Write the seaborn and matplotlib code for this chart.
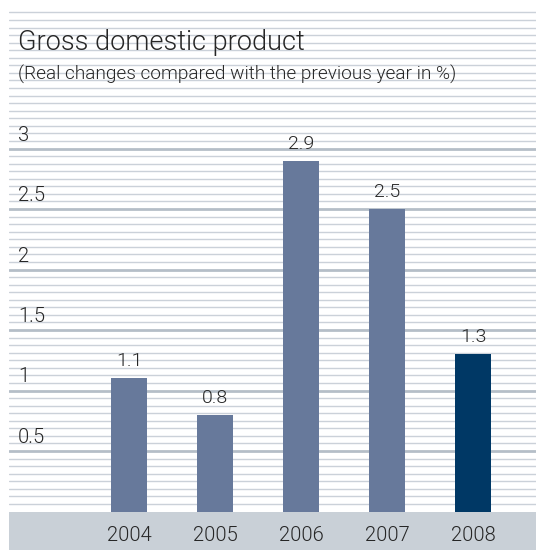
import matplotlib
matplotlib.use("Agg")
import matplotlib.pyplot as plt
import matplotlib.transforms as mtransforms
import numpy as np
import seaborn as sns

# Data
years = ["2004", "2005", "2006", "2007", "2008"]
gdp_change = [1.1, 0.8, 2.9, 2.5, 1.3]
tick_values = [0.5, 1, 1.5, 2, 2.5, 3]
tick_labels = ["0.5", "1", "1.5", "2", "2.5", "3"]
title = "Gross domestic product"
subtitle = "(Real changes compared with the previous year in %)"

bar_colors = ["#67799b", "#67799b", "#67799b", "#67799b", "#003865"]
text_color = "#262626"
stripe_color = "#cbd1d9"
major_stripe_color = "#b5bec8"
band_color = "#c9d0d7"

sns.set_theme(style="white")
plt.rcParams["font.family"] = ["Roboto", "DejaVu Sans"]
WEIGHT = 300

W, H, DPI = 536, 550, 100
fig = plt.figure(figsize=(W / DPI, H / DPI), dpi=DPI)
fig.patch.set_facecolor("white")

left_px, right_px = 9, 536
ax = fig.add_axes([left_px / W, 0, (right_px - left_px) / W, 1])
ax.set_facecolor("white")

px_per_unit = 121.0
zero_px = 511.5
y_bottom = -(H - zero_px) / px_per_unit
y_top = zero_px / px_per_unit

# Pinstripe background
step = 0.0625
for k in range(1, 67):
    v = k * step
    major = abs(v * 2 - round(v * 2)) < 1e-9 and v <= 3
    ax.axhline(v, color=major_stripe_color if major else stripe_color,
               lw=2.0 if major else 1.0, zorder=0)

# Grey band under the bars
ax.axhspan(y_bottom, 0, color=band_color, lw=0, zorder=1)

sns.barplot(x=years, y=gdp_change, hue=years, palette=bar_colors,
            width=0.42, legend=False, saturation=1, linewidth=0,
            ax=ax, zorder=2)

# Layout of the category axis
spacing = 86.0
first_center = 129.0
ax.set_xlim((left_px - first_center) / spacing, (right_px - first_center) / spacing)
ax.set_ylim(y_bottom, y_top)
for s in ax.spines.values():
    s.set_visible(False)
ax.set_xticks([])
ax.set_yticks([])
ax.set_xlabel("")
ax.set_ylabel("")

# Value labels above the bars
for i, v in enumerate(gdp_change):
    ax.annotate(f"{v:g}", (i, v), xytext=(0, 12), textcoords="offset pixels",
                ha="center", va="baseline", fontsize=14, color=text_color,
                fontweight=WEIGHT, zorder=3)

# Year labels inside the band
for i, yr in enumerate(years):
    ax.text(i, -(541 - zero_px) / px_per_unit, yr, ha="center", va="baseline",
            fontsize=14.5, color=text_color, fontweight=WEIGHT, zorder=3)

# Y tick labels sitting on the major stripes
trans = mtransforms.blended_transform_factory(fig.transFigure, ax.transData)
for v, lab in zip(tick_values, tick_labels):
    ax.annotate(lab, (18 / W, v), xycoords=trans, xytext=(0, 8),
                textcoords="offset pixels", ha="left", va="baseline",
                fontsize=14.5, color=text_color, fontweight=WEIGHT, zorder=3)

# Titles
fig.text(18 / W, 1 - 50 / H, title, ha="left", va="baseline",
         fontsize=19.5, color=text_color, fontweight=WEIGHT)
fig.text(18 / W, 1 - 80 / H, subtitle, ha="left", va="baseline",
         fontsize=13.7, color=text_color, fontweight=WEIGHT)

fig.savefig("out.png", dpi=DPI)
